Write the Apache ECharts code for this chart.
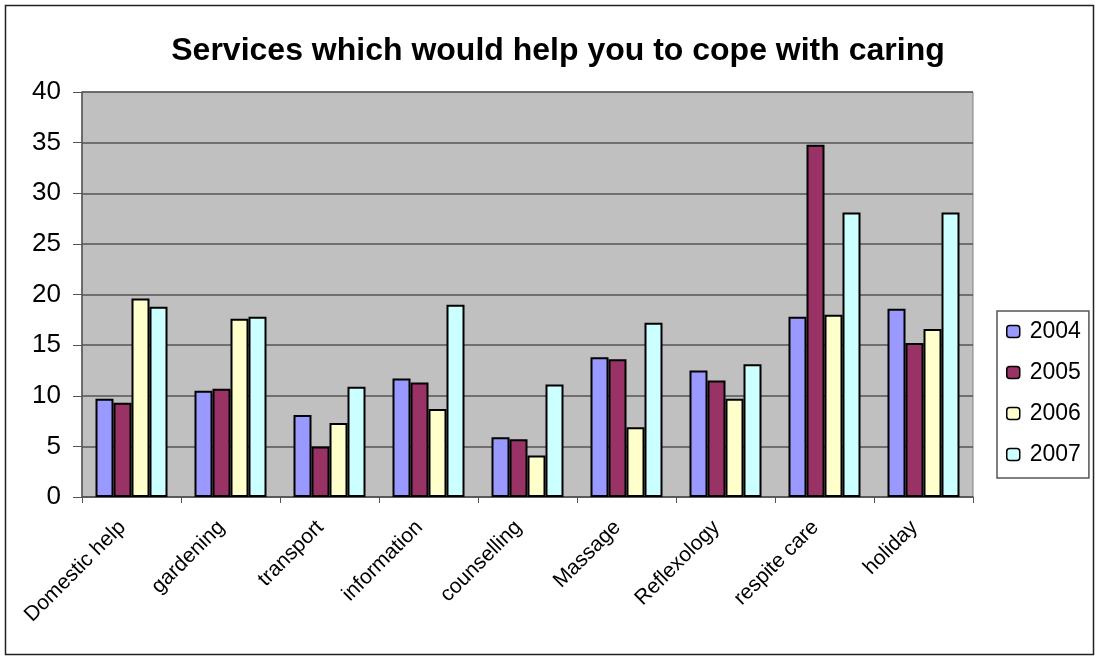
<!DOCTYPE html>
<html>
<head>
<meta charset="utf-8">
<style>
  html, body { margin: 0; padding: 0; background: #ffffff; }
  #chart { width: 1097px; height: 657px; }
</style>
<script src="https://cdn.jsdelivr.net/npm/echarts@6/dist/echarts.min.js"></script>
</head>
<body>
<div id="chart"></div>
<script>
// Services survey: percentage of carers naming each service, by year
const categories = ['Domestic help', 'gardening', 'transport', 'information', 'counselling',
                    'Massage', 'Reflexology', 'respite care', 'holiday'];
const years = ['2004', '2005', '2006', '2007'];
const values2004 = [9.7, 10.5, 8.1, 11.7, 5.9, 13.8, 12.5, 17.8, 18.6];
const values2005 = [9.3, 10.7, 5.0, 11.3, 5.7, 13.6, 11.5, 34.8, 15.2];
const values2006 = [19.6, 17.6, 7.3, 8.7, 4.1, 6.9, 9.7, 18.0, 16.6];
const values2007 = [18.8, 17.8, 10.9, 19.0, 11.1, 17.2, 13.1, 28.1, 28.1];
const yTicks = [0, 5, 10, 15, 20, 25, 30, 35, 40];

const seriesValues = [values2004, values2005, values2006, values2007];
const colors = ['#9999FF', '#993366', '#FFFFCC', '#CCFFFF'];
const FONT = '"Liberation Sans", Arial, sans-serif';

const chart = echarts.init(document.getElementById('chart'), null, { renderer: 'canvas' });

chart.setOption({
  animation: false,
  backgroundColor: '#ffffff',
  title: {
    text: 'Services which would help you to cope with caring',
    left: 553,
    textAlign: 'center',
    top: 30,
    textStyle: { fontFamily: FONT, fontSize: 32, fontWeight: 'bold', color: '#000' }
  },
  graphic: [{
    type: 'rect',
    shape: { x: 5.5, y: 5.5, width: 1088, height: 649 },
    style: { fill: 'none', stroke: '#222', lineWidth: 1.5 },
    silent: true,
    z: 100
  }],
  legend: {
    orient: 'vertical',
    left: 997,
    top: 311,
    padding: [9, 8, 12, 9],
    itemGap: 18,
    itemWidth: 13,
    itemHeight: 12,
    borderColor: '#555',
    borderWidth: 1.5,
    backgroundColor: '#fff',
    data: years,
    itemStyle: { borderColor: '#000', borderWidth: 1.5 },
    textStyle: { fontFamily: FONT, fontSize: 23, color: '#000', padding: [0, 0, 0, 5] }
  },
  grid: {
    left: 82,
    right: 1097 - 973,
    top: 92,
    bottom: 657 - 497,
    show: true,
    backgroundColor: '#C0C0C0',
    borderColor: '#808080',
    borderWidth: 1,
    containLabel: false
  },
  xAxis: {
    type: 'category',
    data: categories,
    axisLine: { lineStyle: { color: '#555', width: 1.5 } },
    axisTick: { show: true, length: 6, lineStyle: { color: '#555' } },
    axisLabel: {
      rotate: 45,
      margin: 18,
      padding: [0, 13, 0, 0],
      fontFamily: FONT,
      fontSize: 21,
      color: '#000'
    }
  },
  yAxis: {
    type: 'value',
    min: yTicks[0],
    max: yTicks[yTicks.length - 1],
    interval: yTicks[1] - yTicks[0],
    axisLine: { show: true, lineStyle: { color: '#555', width: 1.5 } },
    axisTick: { show: true, length: 9, lineStyle: { color: '#555' } },
    splitLine: { show: true, lineStyle: { color: '#555', width: 1.5 } },
    axisLabel: {
      margin: 21,
      fontFamily: FONT,
      fontSize: 26,
      color: '#000'
    }
  },
  series: years.map((y, i) => ({
    name: y,
    type: 'bar',
    data: seriesValues[i],
    barWidth: 18,
    barGap: '0%',
    itemStyle: { color: colors[i], borderColor: '#000', borderWidth: 2 }
  }))
});
</script>
</body>
</html>
